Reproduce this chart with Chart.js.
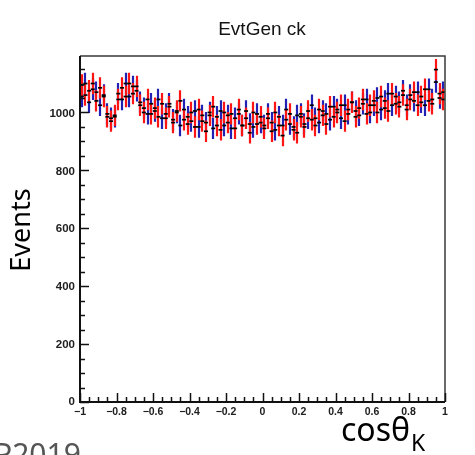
<!DOCTYPE html>
<html>
<head>
<meta charset="utf-8">
<script src="https://cdn.jsdelivr.net/npm/chart.js@4.4.1/dist/chart.umd.min.js"></script>
<style>
  html, body { margin: 0; padding: 0; background: #ffffff; }
  canvas { display: block; }
</style>
</head>
<body>
<canvas id="c" width="475" height="455"></canvas>
<script>
// ---- data ----
const title = 'EvtGen ck';
const xAxisTitle = 'cosθ';
const xAxisSub = 'K';
const yAxisTitle = 'Events';
const xMin = -1, xMax = 1, nBins = 100;
const yMax = 1195;
const errHalf = 37;   // half-length of the error bars
const xTickLabels = ['\u22121', '\u22120.8', '\u22120.6', '\u22120.4', '\u22120.2', '0', '0.2', '0.4', '0.6', '0.8', '1'];
const yTickLabels = ['0', '200', '400', '600', '800', '1000'];

const redCounts = [
  1095, 1060, 1075, 1100, 1040, 1085, 1055, 985, 970, 990,
  1045, 1085, 1055, 1100, 1065, 1090, 1025, 1000, 1045, 995,
  1015, 985, 1030, 980, 1020, 965, 1005, 1040, 975, 960,
  1000, 950, 1010, 970, 935, 990, 1020, 955, 940, 1000,
  965, 995, 945, 1010, 955, 980, 930, 1000, 960, 985,
  945, 980, 935, 1000, 955, 920, 975, 995, 940, 930,
  985, 950, 1005, 975, 955, 1010, 990, 960, 1020, 985,
  1000, 1025, 970, 1010, 1035, 985, 1015, 1045, 995, 1025,
  1040, 1000, 1055, 1015, 1005, 1065, 1030, 1020, 1060, 1010,
  1045, 1070, 1025, 1055, 1080, 1040, 1030, 1148, 1065, 1045
];
const blueCounts = [
  1055, 1100, 1035, 1080, 1070, 1025, 1060, 995, 980, 985,
  1065, 1045, 1100, 1055, 1090, 1075, 1035, 1015, 995, 1030,
  1005, 1045, 980, 995, 1030, 975, 1000, 955, 1010, 985,
  970, 1005, 950, 990, 965, 1000, 945, 985, 1005, 955,
  990, 945, 980, 995, 955, 1005, 960, 950, 995, 965,
  955, 995, 965, 940, 985, 955, 1010, 960, 950, 990,
  995, 960, 980, 1025, 980, 965, 1005, 995, 975, 1020,
  1010, 980, 1025, 995, 1035, 1005, 990, 1030, 1045, 1000,
  1025, 1050, 1010, 1040, 1065, 1025, 1055, 1035, 1075, 1025,
  1060, 1040, 1070, 1035, 1025, 1080, 1045, 1105, 1050, 1070
];

const binWidth = (xMax - xMin) / nBins;
function toPoints(counts) {
  return counts.map((v, i) => ({ x: xMin + (i + 0.5) * binWidth, y: v }));
}

const RED = '#ff1414';
const BLUE = '#2020b4';

const rootPlugin = {
  id: 'rootStyle',
  beforeDatasetsDraw(chart) {
    const ctx = chart.ctx;
    const xs = chart.scales.x, ys = chart.scales.y;
    const a = chart.chartArea;
    ctx.save();
    ctx.beginPath();
    ctx.rect(a.left, a.top, a.right - a.left, a.bottom - a.top);
    ctx.clip();
    chart.data.datasets.forEach(ds => {
      ctx.strokeStyle = ds.barColor;
      ctx.lineWidth = 2.2;
      ctx.beginPath();
      ds.data.forEach(p => {
        const px = Math.round(xs.getPixelForValue(p.x));
        ctx.moveTo(px, ys.getPixelForValue(p.y - errHalf));
        ctx.lineTo(px, ys.getPixelForValue(p.y + errHalf));
      });
      ctx.stroke();
    });
    ctx.restore();
  },
  afterDraw(chart) {
    const ctx = chart.ctx;
    const xs = chart.scales.x, ys = chart.scales.y;
    const a = chart.chartArea;
    ctx.save();
    // frame
    ctx.strokeStyle = '#3a3a3a';
    ctx.lineWidth = 1.5;
    ctx.beginPath();
    ctx.moveTo(a.left, a.top);
    ctx.lineTo(a.right, a.top);
    ctx.lineTo(a.right, a.bottom);
    ctx.stroke();
    ctx.strokeStyle = '#111';
    ctx.lineWidth = 2;
    ctx.beginPath();
    ctx.moveTo(a.left, a.top);
    ctx.lineTo(a.left, a.bottom);
    ctx.lineTo(a.right, a.bottom);
    ctx.stroke();
    // ticks (inside)
    ctx.lineWidth = 1.5;
    ctx.beginPath();
    for (let v = 0; v <= yMax; v += 50) {
      const py = Math.round(ys.getPixelForValue(v)) + 0.5;
      const len = (v % 200 === 0) ? 9 : 5;
      ctx.moveTo(a.left, py);
      ctx.lineTo(a.left + len, py);
    }
    for (let k = 0; k <= 40; k++) {
      const v = xMin + k * 0.05;
      const px = Math.round(xs.getPixelForValue(v)) + 0.5;
      const len = (k % 4 === 0) ? 9 : 5;
      ctx.moveTo(px, a.bottom);
      ctx.lineTo(px, a.bottom - len);
    }
    ctx.stroke();
    // title
    ctx.fillStyle = '#141414';
    ctx.textAlign = 'center';
    ctx.textBaseline = 'alphabetic';
    ctx.font = '19px "Liberation Sans", Arial, sans-serif';
    ctx.fillText(title, 262, 35);
    // y axis title
    ctx.save();
    ctx.translate(30, 230);
    ctx.rotate(-Math.PI / 2);
    ctx.fillStyle = '#000';
    ctx.font = '27px "Noto Sans", "Open Sans", sans-serif';
    ctx.textAlign = 'center';
    ctx.fillText(yAxisTitle, 0, 0);
    ctx.restore();
    // x axis title
    ctx.fillStyle = '#000';
    ctx.textAlign = 'left';
    ctx.font = '32px "Noto Sans", "Open Sans", sans-serif';
    ctx.fillText(xAxisTitle, 341, 441);
    const w = ctx.measureText(xAxisTitle).width;
    ctx.font = '23px "Noto Sans", "Open Sans", sans-serif';
    ctx.fillText(xAxisSub, 341 + w + 1, 451);
    // partial slide footer
    ctx.fillStyle = '#555';
    ctx.font = '30px "Noto Sans", "Open Sans", sans-serif';
    ctx.fillText('P2019', -6, 465);
    ctx.restore();
  }
};

new Chart(document.getElementById('c'), {
  type: 'scatter',
  data: {
    datasets: [
      { label: 'blue', data: toPoints(blueCounts), barColor: BLUE,
        pointStyle: 'line', radius: 2, borderColor: '#000', borderWidth: 1.7, backgroundColor: '#000' },
      { label: 'red', data: toPoints(redCounts), barColor: RED,
        pointStyle: 'line', radius: 2, borderColor: '#000', borderWidth: 1.7, backgroundColor: '#000' }
    ]
  },
  options: {
    responsive: false,
    animation: false,
    devicePixelRatio: 1,
    layout: { padding: { left: 0, right: 30, top: 56, bottom: 0 } },
    plugins: { legend: { display: false }, title: { display: false }, tooltip: { enabled: false } },
    scales: {
      x: {
        type: 'linear', min: xMin, max: xMax,
        afterFit(s) { s.height = 53; },
        grid: { display: false, drawTicks: false },
        border: { display: false },
        ticks: {
          stepSize: 0.2, autoSkip: false, maxRotation: 0, padding: 4,
          color: '#202020',
          font: { family: '"Liberation Sans", Arial, sans-serif', size: 10.5, weight: 'bold' },
          callback: (v, i) => xTickLabels[i]
        }
      },
      y: {
        type: 'linear', min: 0, max: yMax,
        afterFit(s) { s.width = 80; },
        grid: { display: false, drawTicks: false },
        border: { display: false },
        ticks: {
          stepSize: 200, includeBounds: false, padding: 5,
          color: '#202020',
          font: { family: '"Liberation Sans", Arial, sans-serif', size: 11.5, weight: 'bold' },
          callback: (v, i) => yTickLabels[i]
        }
      }
    }
  },
  plugins: [rootPlugin]
});
</script>
</body>
</html>
